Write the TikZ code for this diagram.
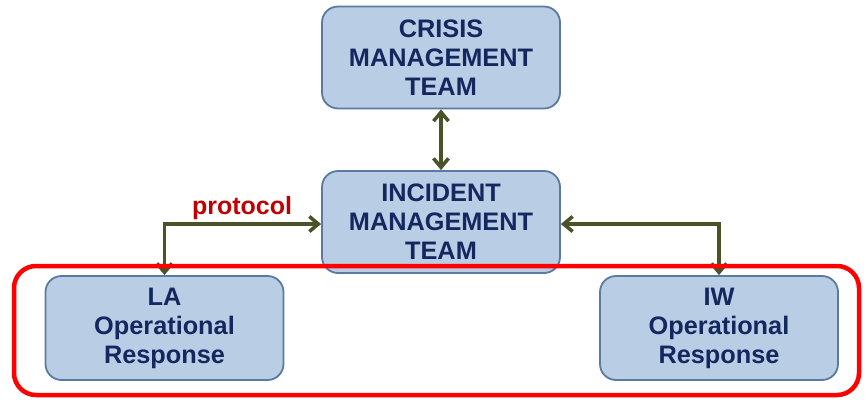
\documentclass[tikz,border=0pt]{standalone}
\usepackage{fontspec}
\setmainfont{Liberation Sans}
\usetikzlibrary{arrows.meta}
\definecolor{boxfill}{HTML}{B9CDE5}
\definecolor{boxline}{HTML}{5A7AA0}
\definecolor{boxtext}{HTML}{14275E}
\definecolor{arrowcol}{HTML}{4A5228}
\definecolor{protored}{HTML}{C00000}
\begin{document}
\begin{tikzpicture}[x=1pt,y=-1pt,
  teambox/.style={draw=boxline, line width=1.8pt, fill=boxfill, rounded corners=16pt,
    minimum width=238pt, minimum height=102pt, align=center, text=boxtext,
    font=\fontsize{25.3}{29}\selectfont\bfseries, inner sep=0pt},
  barb/.tip={Straight Barb[length=9pt,width=15pt,line width=3.5pt]},
  link/.style={draw=arrowcol, line width=3.5pt, barb-barb},
]
\useasboundingbox (0,0) rectangle (868,400);
\node[teambox] (cmt) at (441,57.5) {CRISIS\\MANAGEMENT\\TEAM};
\node[teambox] (imt) at (441,222) {INCIDENT\\MANAGEMENT\\TEAM};
\node[teambox, minimum height=104pt] (la) at (164.5,328) {LA\\Operational\\Response};
\node[teambox, minimum height=104pt] (iw) at (719,328) {IW\\Operational\\Response};
\draw[link] (cmt.south) -- (imt.north);
\draw[link, line join=miter] (imt.west |- 0,224) -| (la.north);
\draw[link, line join=miter] (imt.east |- 0,224) -| (iw.north);
\node[text=protored, font=\fontsize{25}{28}\selectfont\bfseries] (proto) at (242,208) {protocol};
\draw[red, line width=4.5pt, rounded corners=22pt] (14,266) rectangle (859,395);
\end{tikzpicture}
\end{document}
